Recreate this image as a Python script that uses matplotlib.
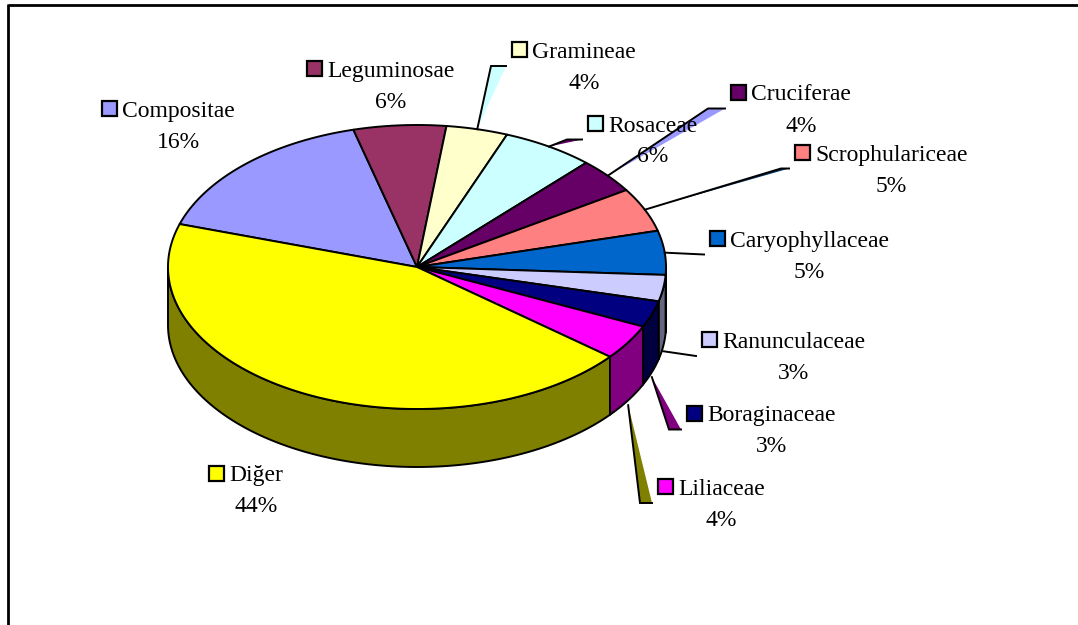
import numpy as np
import matplotlib
matplotlib.use('Agg')
import matplotlib.pyplot as plt
from matplotlib.patches import Polygon, Rectangle
from matplotlib.colors import to_rgb

# ---------------- data ----------------
categories = ['Compositae', 'Leguminosae', 'Gramineae', 'Rosaceae', 'Cruciferae',
              'Scrophulariceae', 'Caryophyllaceae', 'Ranunculaceae', 'Boraginaceae',
              'Liliaceae', 'Diğer']
percent = [16, 6, 4, 6, 4, 5, 5, 3, 3, 4, 44]
colors = ['#9999FF', '#993366', '#FFFFCC', '#CCFFFF', '#660066', '#FF8080',
          '#0066CC', '#CCCCFF', '#000080', '#FF00FF', '#FFFF00']

# ---------------- layout ----------------
W, H = 1078, 625
cx, cy, rx, ry, depth = 417, 267, 249, 142, 58
start_angle = -72.4          # clockwise from 12 o'clock
# label anchor: (text left x, baseline y) in pixels
label_pos = {
    'Compositae': (122, 116.5),
    'Leguminosae': (327, 76.5),
    'Gramineae': (532, 58),
    'Rosaceae': (608, 131.5),
    'Cruciferae': (751, 100.5),
    'Scrophulariceae': (815, 160.5),
    'Caryophyllaceae': (730, 246.5),
    'Ranunculaceae': (722, 348),
    'Boraginaceae': (707, 421.5),
    'Liliaceae': (678, 495),
    'Diğer': (229, 481.5),
}
# leader lines: elbow offset from end, sliver colour
leaders = {
    'Gramineae': (15, '#CCFFFF'),
    'Rosaceae': (15, '#660066'),
    'Cruciferae': (17, '#9999FF'),
    'Scrophulariceae': (8, '#003366'),
    'Caryophyllaceae': (0, None),
    'Ranunculaceae': (0, None),
    'Boraginaceae': (12, '#800080'),
    'Liliaceae': (12, '#808000'),
}
FONT = 'Liberation Serif'
FS = 17
LW = 1.4

fig = plt.figure(figsize=(W / 100, H / 100), dpi=100)
ax = fig.add_axes([0, 0, 1, 1])
ax.set_xlim(0, W)
ax.set_ylim(H, 0)
ax.axis('off')


def pt(phi, z=0.0):
    r = np.radians(phi)
    return np.column_stack([cx + rx * np.sin(r), cy - ry * np.cos(r) + z])


def shade(c):
    return tuple(0.5 * v for v in to_rgb(c))


total = float(sum(percent))
bounds = start_angle + 360.0 * np.concatenate([[0], np.cumsum(percent)]) / total

# side walls (front half only)
for i, c in enumerate(colors):
    a0, a1 = bounds[i], bounds[i + 1]
    lo, hi = max(a0, 90), min(a1, 270)
    if lo < hi:
        arc = np.linspace(lo, hi, 120)
        poly = np.vstack([pt(arc, 0), pt(arc[::-1], depth)])
        ax.add_patch(Polygon(poly, closed=True, facecolor=shade(c), edgecolor='black',
                             lw=LW, joinstyle='round', zorder=2))

# top faces
for i, c in enumerate(colors):
    a0, a1 = bounds[i], bounds[i + 1]
    arc = np.linspace(a0, a1, 200)
    poly = np.vstack([[cx, cy], pt(arc, 0)])
    ax.add_patch(Polygon(poly, closed=True, facecolor=c, edgecolor='black',
                         lw=LW, joinstyle='round', zorder=3))

# labels
texts = {}
for name, pctv, c in zip(categories, percent, colors):
    x, b = label_pos[name]
    t = ax.text(x, b, name, fontfamily=FONT, fontsize=FS, ha='left', va='baseline',
                color='black', zorder=5)
    texts[name] = t
    ax.add_patch(Rectangle((x - 20.5, b - 16), 15, 15, facecolor=c, edgecolor='black',
                           lw=1.6, zorder=5))

fig.canvas.draw()
renderer = fig.canvas.get_renderer()
for name, pctv in zip(categories, percent):
    x, b = label_pos[name]
    w = texts[name].get_window_extent(renderer).width
    ax.text(x + w / 2, b + 31, f'{pctv}%', fontfamily=FONT, fontsize=FS,
            ha='center', va='baseline', color='black', zorder=5)

# leader lines
for i, name in enumerate(categories):
    if name not in leaders:
        continue
    off, scol = leaders[name]
    mid = (bounds[i] + bounds[i + 1]) / 2
    z = 0 if mid < 90 else depth + 5
    s = pt(np.array([mid]), z)[0]
    x, b = label_pos[name]
    e = np.array([x - 26, b + 8])
    el = e - np.array([off, 0])
    if scol is not None:
        ax.add_patch(Polygon([s, el, e], closed=True, facecolor=scol, edgecolor='none',
                             zorder=4))
    ax.plot([s[0], el[0], e[0]], [s[1], el[1], e[1]], color='black', lw=LW,
            solid_joinstyle='miter', zorder=4)

# frame (top and left only visible)
ax.plot([8, W], [5, 5], color='black', lw=2.0, solid_capstyle='butt', zorder=6)
ax.plot([8, 8], [4, H], color='black', lw=2.0, solid_capstyle='butt', zorder=6)

fig.savefig('out.png', dpi=100)
